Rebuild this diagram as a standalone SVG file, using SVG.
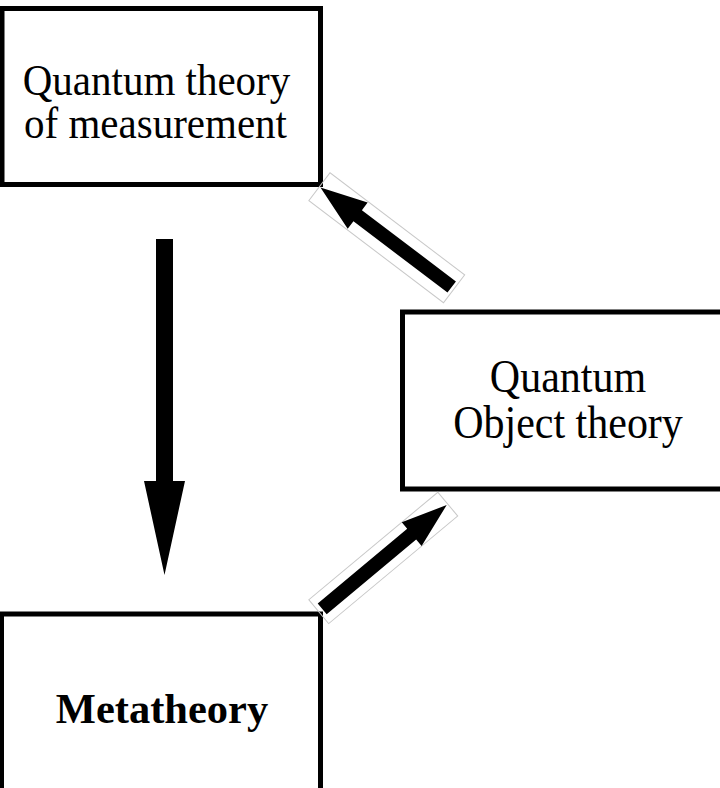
<svg xmlns="http://www.w3.org/2000/svg" width="720" height="788" viewBox="0 0 720 788">
  <style>
    .box { fill: #ffffff; stroke: #000000; stroke-width: 5; }
    .lbl { font-family: "Liberation Serif", "Times New Roman", serif; font-size: 41px; fill: #000000; text-anchor: middle; }
    .bold { font-weight: bold; }
    .arrow { fill: #000000; stroke: none; }
    .frame { fill: none; stroke: #c8c8c8; stroke-width: 1; }
  </style>
  <rect x="0" y="0" width="720" height="788" fill="#ffffff"/>
  <g id="node-measurement">
    <rect class="box" x="2" y="8.5" width="318.5" height="176"/>
    <text class="lbl" transform="translate(156.5,95) scale(1,1.09)">Quantum theory</text>
    <text class="lbl" transform="translate(155.5,138) scale(1,1.09)">of measurement</text>
  </g>
  <g id="node-object">
    <rect class="box" x="402.5" y="312" width="332" height="177"/>
    <text class="lbl" style="font-size:42px" transform="translate(568,392) scale(1,1.08)">Quantum</text>
    <text class="lbl" style="font-size:42px" transform="translate(568,438) scale(1,1.08)">Object theory</text>
  </g>
  <g id="node-metatheory">
    <rect class="box" x="1.5" y="614" width="319" height="200"/>
    <text class="lbl bold" x="162" y="723" style="font-size:42.5px">Metatheory</text>
  </g>
  <g id="connectors">
    <path class="arrow" d="M156,239 L173,239 L173,481 L185,481 L164.5,575 L144,481 L156,481 Z"/>
    <g transform="translate(451.7,287) rotate(-142.83)">
      <rect class="frame" x="-3" y="-17.5" width="169" height="35"/>
      <path class="arrow" d="M0,-7 L118,-7 L118,-16.5 L164.7,0 L118,16.5 L118,7 L0,7 Z"/>
    </g>
    <g transform="translate(322.2,608.8) rotate(-39.82)">
      <rect class="frame" x="-4.5" y="-15.5" width="168" height="31"/>
      <path class="arrow" d="M0,-7 L116.5,-7 L116.5,-15.5 L162.1,0 L116.5,15.5 L116.5,7 L0,7 Z"/>
    </g>
  </g>
</svg>
